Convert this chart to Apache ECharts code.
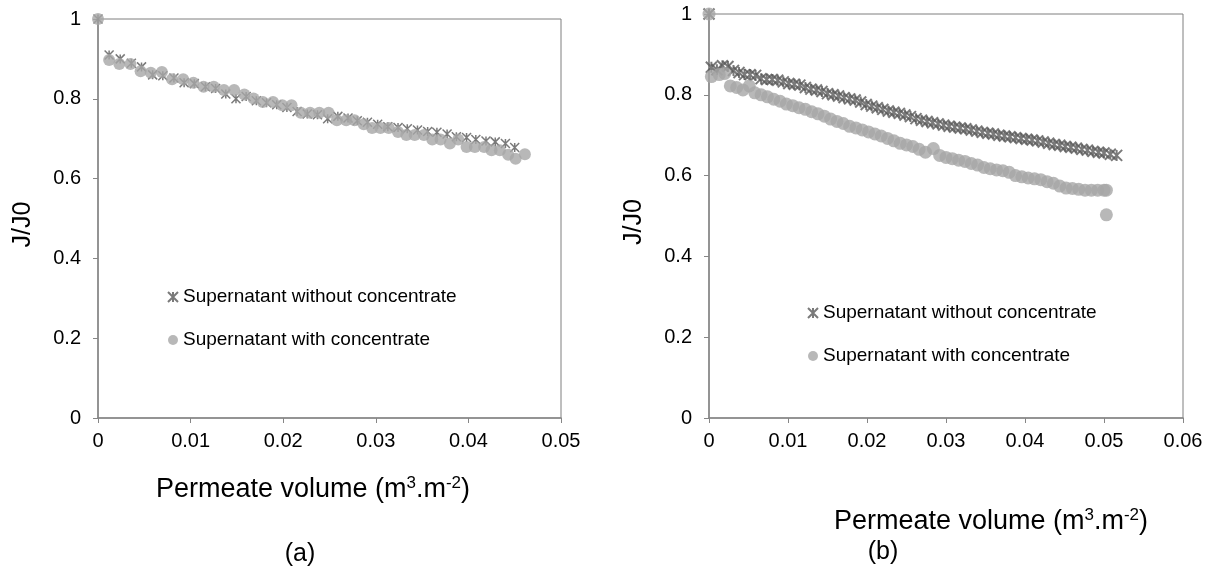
<!DOCTYPE html>
<html><head><meta charset="utf-8">
<script src="https://cdn.jsdelivr.net/npm/echarts@6/dist/echarts.min.js"></script>
<style>html,body{margin:0;padding:0;background:#fff}#c{width:1212px;height:578px}</style>
</head><body><div id="c"></div>
<script>
const seriesNames = ['Supernatant without concentrate', 'Supernatant with concentrate'];
const panelLabels = ['(a)', '(b)'];
const xTitle = 'Permeate volume (m{sup|3}.m{sup|-2})';
const yTitle = 'J/J0';

// Panel (a)
const aStarX = [0,0.0012,0.0024,0.0036,0.0047,0.0059,0.0070,0.0082,0.0093,0.0104,0.0116,0.0127,0.0138,0.0149,0.0160,0.0171,0.0182,0.0193,0.0204,0.0215,0.0226,0.0237,0.0248,0.0259,0.0270,0.0280,0.0291,0.0302,0.0313,0.0324,0.0334,0.0345,0.0356,0.0366,0.0377,0.0387,0.0398,0.0408,0.0419,0.0429,0.0440,0.0450];
const aStarY = [1,0.910,0.900,0.889,0.880,0.860,0.858,0.852,0.840,0.838,0.830,0.826,0.812,0.800,0.806,0.795,0.790,0.785,0.778,0.768,0.762,0.760,0.750,0.756,0.752,0.745,0.741,0.736,0.730,0.728,0.725,0.722,0.718,0.716,0.712,0.705,0.703,0.698,0.694,0.692,0.688,0.678];
const aCircX = [0,0.0012,0.0023,0.0035,0.0046,0.0057,0.0069,0.0080,0.0092,0.0103,0.0114,0.0125,0.0136,0.0147,0.0158,0.0168,0.0178,0.0189,0.0199,0.0209,0.0219,0.0229,0.0239,0.0249,0.0258,0.0268,0.0277,0.0287,0.0296,0.0305,0.0314,0.0324,0.0333,0.0342,0.0352,0.0361,0.0370,0.0380,0.0389,0.0398,0.0407,0.0417,0.0425,0.0434,0.0443,0.0451,0.0461];
const aCircY = [1,0.897,0.887,0.887,0.869,0.865,0.867,0.849,0.849,0.840,0.830,0.830,0.822,0.822,0.811,0.801,0.792,0.792,0.784,0.784,0.765,0.765,0.765,0.765,0.746,0.746,0.746,0.736,0.727,0.727,0.727,0.717,0.709,0.709,0.709,0.698,0.698,0.688,0.698,0.679,0.679,0.679,0.671,0.671,0.660,0.650,0.661];

// Panel (b)
const bStarX = [0,0.0003,0.0010,0.0017,0.0024,0.0031,0.0038,0.0045,0.0052,0.0059,0.0066,0.0073,0.0080,0.0087,0.0094,0.0101,0.0108,0.0115,0.0122,0.0129,0.0136,0.0143,0.0150,0.0157,0.0164,0.0171,0.0178,0.0185,0.0192,0.0199,0.0206,0.0213,0.0220,0.0227,0.0234,0.0241,0.0248,0.0255,0.0262,0.0269,0.0276,0.0283,0.0290,0.0297,0.0304,0.0311,0.0318,0.0325,0.0332,0.0339,0.0346,0.0353,0.0360,0.0367,0.0374,0.0381,0.0388,0.0395,0.0402,0.0409,0.0416,0.0423,0.0430,0.0437,0.0444,0.0451,0.0458,0.0465,0.0472,0.0479,0.0486,0.0493,0.0500,0.0508,0.0516];
const bStarY = [1,0.868,0.862,0.872,0.870,0.860,0.855,0.850,0.850,0.848,0.840,0.838,0.838,0.836,0.832,0.828,0.826,0.824,0.818,0.814,0.812,0.808,0.803,0.800,0.797,0.793,0.790,0.787,0.782,0.776,0.772,0.768,0.764,0.760,0.757,0.754,0.750,0.746,0.741,0.737,0.734,0.731,0.728,0.725,0.722,0.720,0.718,0.716,0.713,0.710,0.707,0.705,0.703,0.700,0.698,0.696,0.694,0.692,0.690,0.688,0.686,0.683,0.680,0.677,0.675,0.672,0.670,0.668,0.665,0.663,0.660,0.658,0.656,0.653,0.650];
const bCircX = [0,0.0003,0.0013,0.0020,0.0027,0.0035,0.0043,0.0051,0.0058,0.0066,0.0074,0.0082,0.0090,0.0098,0.0106,0.0114,0.0122,0.0130,0.0138,0.0146,0.0154,0.0162,0.0170,0.0178,0.0186,0.0194,0.0202,0.0210,0.0218,0.0226,0.0234,0.0242,0.0250,0.0258,0.0266,0.0274,0.0284,0.0292,0.0300,0.0308,0.0316,0.0324,0.0332,0.0340,0.0348,0.0356,0.0364,0.0372,0.0380,0.0388,0.0396,0.0404,0.0412,0.0420,0.0428,0.0436,0.0444,0.0452,0.0460,0.0468,0.0476,0.0484,0.0492,0.0500,0.0503,0.0503];
const bCircY = [1,0.845,0.850,0.853,0.822,0.818,0.812,0.822,0.805,0.800,0.795,0.789,0.784,0.777,0.773,0.768,0.764,0.758,0.753,0.747,0.740,0.734,0.729,0.722,0.718,0.713,0.708,0.703,0.698,0.692,0.686,0.680,0.676,0.672,0.665,0.658,0.667,0.650,0.645,0.642,0.638,0.635,0.630,0.626,0.620,0.617,0.614,0.612,0.608,0.600,0.597,0.594,0.592,0.590,0.585,0.581,0.574,0.569,0.568,0.566,0.564,0.564,0.564,0.564,0.564,0.503];

const xMaxA = 0.05, xMaxB = 0.06, xStep = 0.01;
const yMin = 0, yMax = 1, yStep = 0.2;

const pairs = (xs, ys) => xs.slice(0, Math.min(xs.length, ys.length)).map((x, i) => [x, ys[i]]);

const FONT = "'Liberation Sans', Arial, sans-serif";
const STAR = 'path://M0,0L10,10M10,0L0,10M5,0L5,10';
const AXIS_C = '#868686';

function xAxisFor(gi, max, gap, pad) {
  return {
    gridIndex: gi, type: 'value', min: 0, max: max, interval: xStep,
    axisLine: { show: true, onZero: false, lineStyle: { color: AXIS_C, width: 1.5 } },
    axisTick: { show: true, length: 5, lineStyle: { color: AXIS_C, width: 1 } },
    splitLine: { show: false },
    axisLabel: { show: true, color: '#000', fontSize: 20, fontFamily: FONT, margin: 13, showMinLabel: true, showMaxLabel: true },
    name: xTitle, nameLocation: 'middle', nameGap: gap,
    nameTextStyle: {
      color: '#000', fontSize: 27, fontFamily: FONT, lineHeight: 30, padding: pad,
      rich: { sup: { fontSize: 17, fontFamily: FONT, color: '#000', verticalAlign: 'top', lineHeight: 17 } }
    }
  };
}
function yAxisFor(gi) {
  return {
    gridIndex: gi, type: 'value', min: yMin, max: yMax, interval: yStep,
    axisLine: { show: true, onZero: false, lineStyle: { color: AXIS_C, width: 1.5 } },
    axisTick: { show: true, length: 5, lineStyle: { color: AXIS_C, width: 1 } },
    splitLine: { show: false },
    axisLabel: { show: true, color: '#000', fontSize: 20, fontFamily: FONT, margin: 17, showMinLabel: true, showMaxLabel: true },
    name: yTitle, nameLocation: 'middle', nameGap: 62,
    nameTextStyle: { color: '#000', fontSize: 25, fontFamily: FONT, padding: [0, 12, 0, 0] }
  };
}
function starSeries(i, data, size, bw) {
  return {
    type: 'scatter', name: seriesNames[0], xAxisIndex: i, yAxisIndex: i, data: data,
    symbol: STAR, symbolSize: size, z: 2,
    itemStyle: { color: 'rgba(0,0,0,0)', borderColor: '#595959', borderWidth: bw },
    emphasis: { disabled: true }
  };
}
function circSeries(i, data, size) {
  return {
    type: 'scatter', name: seriesNames[1], xAxisIndex: i, yAxisIndex: i, data: data,
    symbol: 'circle', symbolSize: size, z: 3,
    itemStyle: { color: '#A6A6A6' },
    emphasis: { disabled: true }
  };
}
function legendAt(left, top) {
  return {
    left: left, top: top, orient: 'vertical', padding: 0, itemGap: 23,
    itemWidth: 10, itemHeight: 10, selectedMode: false,
    data: seriesNames,
    textStyle: { color: '#000', fontSize: 19, fontFamily: FONT, lineHeight: 20 }
  };
}

const chart = echarts.init(document.getElementById('c'), null, { renderer: 'canvas' });
chart.setOption({
  animation: false,
  backgroundColor: '#fff',
  grid: [
    { left: 98, top: 19, width: 463, height: 399, show: true, borderColor: '#7f7f7f', borderWidth: 1, backgroundColor: 'transparent', containLabel: false },
    { left: 709, top: 14, width: 474, height: 404, show: true, borderColor: '#7f7f7f', borderWidth: 1, backgroundColor: 'transparent', containLabel: false }
  ],
  xAxis: [xAxisFor(0, xMaxA, 57, [0, 33, 0, 0]), xAxisFor(1, xMaxB, 89, [0, 0, 0, 90])],
  yAxis: [yAxisFor(0), yAxisFor(1)],
  legend: [legendAt(167, 287), legendAt(807, 303)],
  series: [
    starSeries(0, pairs(aStarX, aStarY), 9, 1.5),
    circSeries(0, pairs(aCircX, aCircY), 12),
    starSeries(1, pairs(bStarX, bStarY), 11, 2),
    circSeries(1, pairs(bCircX, bCircY), 13)
  ],
  graphic: [
    { type: 'text', x: 300, y: 554, style: { text: panelLabels[0], font: "25px 'Liberation Sans', Arial, sans-serif", fill: '#000', textAlign: 'center', textVerticalAlign: 'middle' } },
    { type: 'text', x: 883, y: 552, style: { text: panelLabels[1], font: "25px 'Liberation Sans', Arial, sans-serif", fill: '#000', textAlign: 'center', textVerticalAlign: 'middle' } }
  ]
});
</script>
</body></html>
